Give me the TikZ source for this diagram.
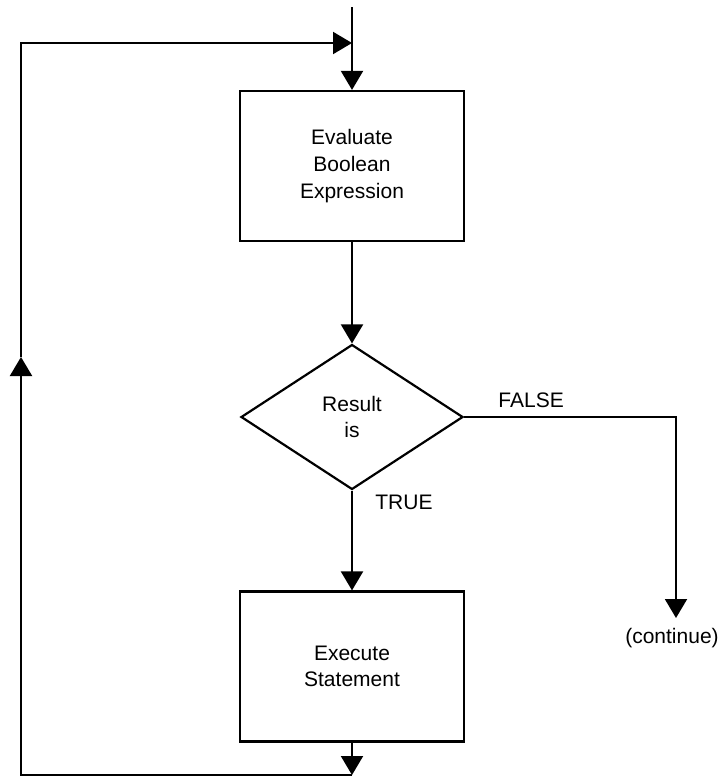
\documentclass[tikz,border=0pt]{standalone}
\usepackage{fontspec}
\setmainfont{Liberation Sans}
\usetikzlibrary{shapes.geometric,arrows.meta}
\tikzset{
	flowbox/.style={draw,line width=1.1pt,minimum width=112pt,minimum height=75pt,align=center,inner sep=0pt},
	decision/.style={draw,diamond,line width=1.1pt,minimum width=111pt,minimum height=72.5pt,align=center,inner sep=0pt},
	arr/.style={line width=1pt,-{Triangle[length=9.5pt,width=11pt]}},
	lbl/.style={inner sep=0pt}
}
\begin{document}
\begin{tikzpicture}[x=0.5pt,y=-0.5pt,font=\fontsize{10.5pt}{13.3pt}\selectfont]
			\useasboundingbox (0,0) rectangle (722,777);
			\node[flowbox] (eval) at (352,166) {Evaluate\\Boolean\\Expression};
			\node[decision] (cond) at (352,417) {Result\\is};
			\node[flowbox] (exec) at (352,666.5) {Execute\\Statement};
			\coordinate (start) at (352,7);
			\coordinate (entry) at (352,43);
			\coordinate (loopB) at (352,775);
			\coordinate (loopM) at (21,357);
			\coordinate (cont) at (676,618);
			\node[lbl,anchor=west] (false) at (498,400) {FALSE};
			\node[lbl,anchor=west] (true) at (375,502) {TRUE};
			\node[lbl] (contlbl) at (672,638) {(continue)};
			\draw[arr] (start) -- (eval.north);
			\draw[arr] (eval.south) -- (cond.north);
			\draw[arr] (cond.south) -- (exec.north);
			\draw[arr] (cond.east) -| (cont);
			\draw[arr] (exec.south) -- (loopB);
			\draw[arr] (loopB) -| (loopM);
			\draw[arr] (loopM) |- (entry);
		\end{tikzpicture}
\end{document}
